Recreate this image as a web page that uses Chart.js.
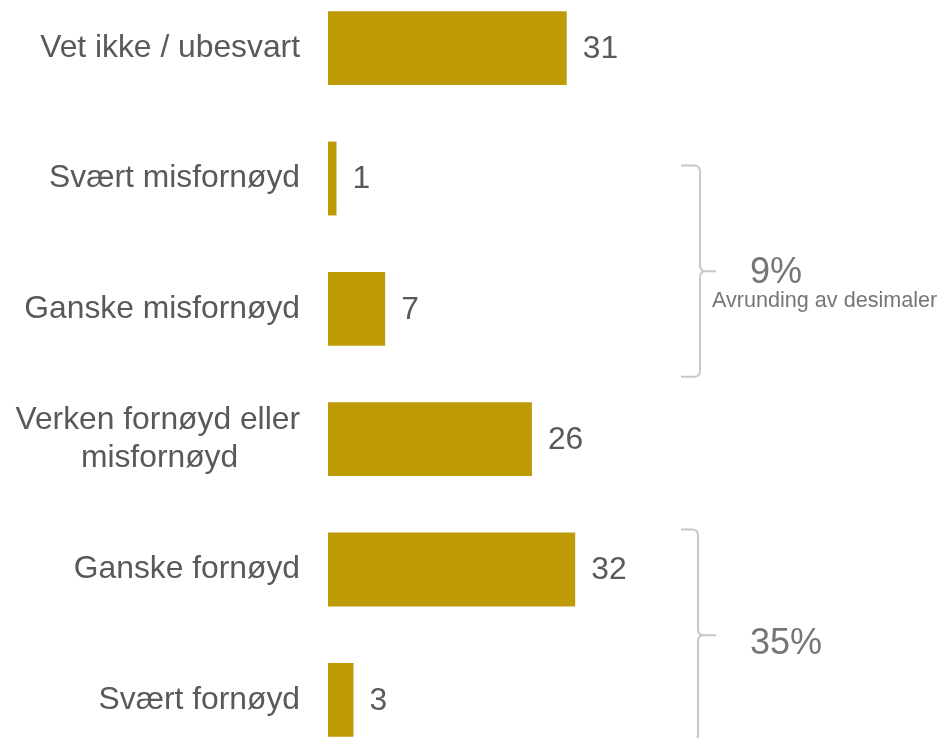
<!DOCTYPE html>
<html>
<head>
<meta charset="utf-8">
<script src="https://cdn.jsdelivr.net/npm/chart.js@4/dist/chart.umd.min.js"></script>
<style>
  html, body { margin: 0; padding: 0; background: #ffffff; overflow: hidden; width: 940px; height: 738px; }
  #wrap { position: absolute; left: 0; top: -17px; width: 940px; height: 782px; }
</style>
</head>
<body>
<div id="wrap"><canvas id="c" width="940" height="782"></canvas></div>
<script>
// ---- data ----
const categories = [
  'Vet ikke / ubesvart',
  'Svært misfornøyd',
  'Ganske misfornøyd',
  ['Verken fornøyd eller', 'misfornøyd'],
  'Ganske fornøyd',
  'Svært fornøyd'
];
// unrounded shares (labels show rounded values)
const values = [30.9, 1.1, 7.4, 26.4, 32.0, 3.3];
const groupLabels = ['9%', '35%'];
const groupNotes = ['Avrunding av desimaler', ''];
const groupFrom = [1, 4];
const groupTo = [2, 5];

const FONT = '"Liberation Sans", Arial, sans-serif';
const TEXT = '#595959';
const BAR = '#BF9A07';
const LABEL_SIZE = 31.8;

const measureCtx = document.createElement('canvas').getContext('2d');
measureCtx.font = LABEL_SIZE + 'px ' + FONT;

function centerLines(lines) {
  if (!Array.isArray(lines)) return lines;
  const widths = lines.map(l => measureCtx.measureText(l).width);
  const wMax = Math.max(...widths);
  const sp = measureCtx.measureText(' ').width;
  return lines.map((l, i) => l + ' '.repeat(Math.round((wMax - widths[i]) / 2 / sp)));
}

const valueLabels = {
  id: 'valueLabels',
  afterDatasetsDraw(chart) {
    const ctx = chart.ctx;
    const meta = chart.getDatasetMeta(0);
    ctx.save();
    ctx.font = LABEL_SIZE + 'px ' + FONT;
    ctx.fillStyle = TEXT;
    ctx.textAlign = 'left';
    ctx.textBaseline = 'middle';
    meta.data.forEach((bar, i) => {
      ctx.fillText(String(Math.round(values[i])), bar.x + 16, bar.y + 1);
    });
    ctx.restore();
  }
};

const brackets = {
  id: 'brackets',
  afterDraw(chart) {
    const ctx = chart.ctx;
    const y = chart.scales.y;
    // per-bracket geometry relative to the category positions
    const geo = [
      { top: y.getPixelForValue(groupFrom[0]) - 13, bottom: y.getPixelForValue(groupTo[0]) + 68, xV: 700, pctDy: 12, noteDy: 36 },
      { top: y.getPixelForValue(groupFrom[1]) - 40, bottom: y.getPixelForValue(groupTo[1]) + 41, xV: 698, pctDy: 19, noteDy: 40 }
    ];
    ctx.save();
    geo.forEach((g, i) => {
      const xL = 681, xV = g.xV, xT = 716, r = 6;
      const mid = (g.top + g.bottom) / 2;
      ctx.strokeStyle = '#C8C8C8';
      ctx.lineWidth = 2;
      ctx.beginPath();
      ctx.moveTo(xL, g.top);
      ctx.lineTo(xV - r, g.top);
      ctx.quadraticCurveTo(xV, g.top, xV, g.top + r);
      ctx.lineTo(xV, mid - r);
      ctx.quadraticCurveTo(xV, mid, xV + r, mid);
      ctx.lineTo(xT, mid);
      ctx.moveTo(xV + r, mid);
      ctx.quadraticCurveTo(xV, mid, xV, mid + r);
      ctx.lineTo(xV, g.bottom - r);
      ctx.quadraticCurveTo(xV, g.bottom, xV - r, g.bottom);
      ctx.lineTo(xL, g.bottom);
      ctx.stroke();

      ctx.fillStyle = '#767676';
      ctx.textAlign = 'left';
      ctx.textBaseline = 'alphabetic';
      ctx.font = '36px ' + FONT;
      ctx.fillText(groupLabels[i], 750, mid + g.pctDy);
      if (groupNotes[i]) {
        ctx.font = '21.6px ' + FONT;
        ctx.fillText(groupNotes[i], 712, mid + g.noteDy);
      }
    });
    ctx.restore();
  }
};

new Chart(document.getElementById('c'), {
  type: 'bar',
  data: {
    labels: categories,
    datasets: [{
      data: values,
      backgroundColor: BAR,
      borderWidth: 0,
      categoryPercentage: 1,
      barPercentage: 0.567
    }]
  },
  options: {
    indexAxis: 'y',
    responsive: false,
    animation: false,
    devicePixelRatio: 1,
    layout: { padding: { left: 0, right: 303, top: 0, bottom: 0 } },
    plugins: { legend: { display: false }, tooltip: { enabled: false } },
    scales: {
      x: { display: false, min: 0, max: 40 },
      y: {
        grid: { display: false, drawTicks: false },
        border: { display: false },
        afterFit(scale) {
          scale.width = 328;
          scale.paddingTop = 0;
          scale.paddingBottom = 0;
        },
        ticks: {
          color: TEXT,
          padding: 28,
          font: { family: FONT, size: LABEL_SIZE, lineHeight: 1.2 },
          callback(value) { return centerLines(this.getLabelForValue(value)); }
        }
      }
    }
  },
  plugins: [valueLabels, brackets]
});
</script>
</body>
</html>
